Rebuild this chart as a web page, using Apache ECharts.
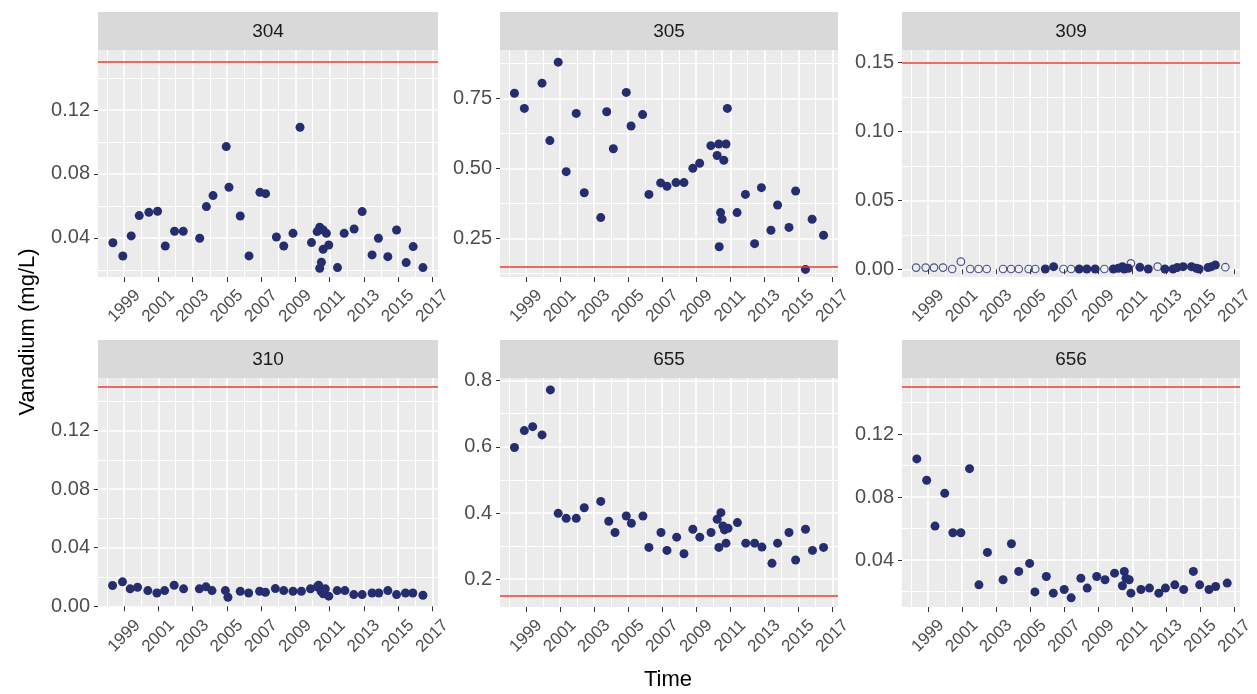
<!DOCTYPE html>
<html>
<head>
<meta charset="utf-8">
<script src="https://cdn.jsdelivr.net/npm/echarts@6/dist/echarts.min.js"></script>
<style>html,body{margin:0;background:#fff}#main{width:1257px;height:694px}</style>
</head>
<body>
<div id="main"></div>
<script>
// site names (facet strips)
var sites = ['304', '305', '309', '310', '655', '656'];
var limit = 0.15;

// x ticks (years)
var xMajor = [1999, 2001, 2003, 2005, 2007, 2009, 2011, 2013, 2015, 2017];
var xMinor = [1998, 2000, 2002, 2004, 2006, 2008, 2010, 2012, 2014, 2016];

// y ticks per site
var yMajor304 = [0.04, 0.08, 0.12], yMinor304 = [0.02, 0.06, 0.10, 0.14];
var yMajor305 = [0.25, 0.50, 0.75], yMinor305 = [0.125, 0.375, 0.625, 0.875];
var yMajor309 = [0, 0.05, 0.10, 0.15], yMinor309 = [0.025, 0.075, 0.125];
var yMajor310 = [0, 0.04, 0.08, 0.12], yMinor310 = [0.02, 0.06, 0.10, 0.14];
var yMajor655 = [0.2, 0.4, 0.6, 0.8], yMinor655 = [0.3, 0.5, 0.7];
var yMajor656 = [0.04, 0.08, 0.12], yMinor656 = [0.02, 0.06, 0.10, 0.14];

// [decimal year, mg/L]
var s304 = [[1998.34,0.037],[1998.92,0.0287],[1999.41,0.0413],[1999.88,0.054],[2000.44,0.056],[2000.95,0.0567],
  [2001.40,0.035],[2001.94,0.0442],[2002.45,0.0442],[2003.41,0.0398],[2003.80,0.0596],[2004.19,0.0665],
  [2004.96,0.0971],[2005.12,0.0717],[2005.78,0.0537],[2006.29,0.0288],[2006.93,0.0685],[2007.26,0.0677],
  [2007.89,0.0406],[2008.32,0.035],[2008.86,0.0429],[2009.27,0.1092],[2009.94,0.0371],[2010.27,0.044],
  [2010.42,0.0467],[2010.62,0.045],[2010.81,0.0429],[2010.62,0.0329],[2010.95,0.0356],[2010.42,0.021],
  [2010.52,0.0248],[2011.46,0.0215],[2011.85,0.0429],[2012.43,0.0456],[2012.90,0.0565],[2013.48,0.0294],
  [2013.85,0.0398],[2014.40,0.0283],[2014.91,0.045],[2015.47,0.0246],[2015.88,0.0346],[2016.45,0.0215]];

var s305 = [[1998.32,0.768],[1998.90,0.714],[1999.94,0.804],[2000.40,0.599],[2000.89,0.879],[2001.36,0.488],
  [2001.95,0.696],[2002.42,0.413],[2003.39,0.324],[2003.74,0.702],[2004.13,0.570],[2004.89,0.771],
  [2005.17,0.651],[2005.85,0.692],[2006.22,0.407],[2006.91,0.448],[2007.28,0.436],[2007.81,0.449],
  [2008.28,0.449],[2008.80,0.500],[2009.20,0.518],[2009.86,0.581],[2010.23,0.546],[2010.33,0.587],
  [2010.43,0.342],[2010.52,0.318],[2010.35,0.220],[2010.62,0.529],[2010.75,0.587],[2010.83,0.714],
  [2011.40,0.342],[2011.89,0.407],[2012.43,0.231],[2012.83,0.431],[2013.39,0.279],[2013.78,0.369],
  [2014.45,0.289],[2014.84,0.419],[2015.42,0.139],[2015.81,0.318],[2016.48,0.261]];

// 309: detected values and non-detects (open circles)
var s309 = [[2005.89,0.0002],[2006.38,0.0019],[2007.88,0.0002],[2008.33,0.0002],[2008.82,0.0002],[2009.89,0.0002],
  [2010.18,0.0007],[2010.42,0.0019],[2010.53,0.0002],[2010.77,0.0007],[2011.45,0.0014],[2011.94,0.0002],
  [2012.92,0.0002],[2013.40,0.0002],[2013.64,0.0012],[2013.99,0.0019],[2014.48,0.0019],[2014.77,0.0007],
  [2014.93,0.0002],[2015.45,0.0012],[2015.65,0.0019],[2015.88,0.0031]];
var nd309 = [[1998.30,0.0012],[1998.86,0.0012],[1999.35,0.0012],[1999.88,0.0012],[2000.42,0.0002],[2000.93,0.0055],
  [2001.48,0.0002],[2001.97,0.0002],[2002.45,0.0002],[2003.41,0.0002],[2003.88,0.0002],[2004.33,0.0002],
  [2004.91,0.0002],[2005.30,0.0002],[2006.96,0.0002],[2007.41,0.0002],[2009.36,0.0002],[2010.92,0.0043],
  [2012.49,0.0019],[2016.47,0.0015]];

var s310 = [[1998.32,0.0142],[1998.90,0.0167],[1999.35,0.0119],[1999.78,0.0130],[2000.38,0.0107],[2000.91,0.0091],
  [2001.36,0.0107],[2001.92,0.0144],[2002.47,0.0119],[2003.39,0.0119],[2003.78,0.0133],[2004.13,0.0107],
  [2004.91,0.0107],[2005.06,0.0062],[2005.78,0.0103],[2006.27,0.0091],[2006.91,0.0103],[2007.25,0.0096],
  [2007.83,0.0121],[2008.32,0.0107],[2008.86,0.0103],[2009.35,0.0103],[2009.88,0.0119],[2010.27,0.0133],
  [2010.36,0.0144],[2010.50,0.0103],[2010.62,0.0085],[2010.75,0.0119],[2010.95,0.0069],[2011.44,0.0107],
  [2011.89,0.0107],[2012.41,0.0080],[2012.90,0.0080],[2013.48,0.0091],[2013.87,0.0091],[2014.40,0.0107],
  [2014.91,0.0080],[2015.43,0.0091],[2015.86,0.0091],[2016.45,0.0075]];

var s655 = [[1998.32,0.598],[1998.90,0.649],[1999.39,0.661],[1999.94,0.636],[2000.43,0.772],[2000.89,0.399],
  [2001.36,0.384],[2001.95,0.384],[2002.42,0.416],[2003.39,0.435],[2003.86,0.375],[2004.23,0.341],
  [2004.89,0.391],[2005.19,0.369],[2005.87,0.391],[2006.22,0.296],[2006.93,0.341],[2007.28,0.287],
  [2007.85,0.327],[2008.28,0.277],[2008.80,0.351],[2009.21,0.327],[2009.87,0.341],[2010.23,0.381],
  [2010.45,0.401],[2010.33,0.296],[2010.57,0.361],[2010.66,0.349],[2010.75,0.309],[2010.87,0.354],
  [2011.42,0.371],[2011.91,0.309],[2012.43,0.309],[2012.86,0.297],[2013.45,0.248],[2013.78,0.309],
  [2014.45,0.341],[2014.84,0.258],[2015.42,0.351],[2015.83,0.287],[2016.48,0.296]];

var s656 = [[1998.34,0.1043],[1998.92,0.0907],[1999.41,0.0616],[1999.98,0.0824],[2000.46,0.0574],[2000.93,0.0574],
  [2001.44,0.0981],[2001.99,0.0243],[2002.49,0.0449],[2003.41,0.0275],[2003.90,0.0504],[2004.33,0.0328],
  [2004.97,0.0379],[2005.28,0.0198],[2005.95,0.0296],[2006.36,0.0190],[2007.00,0.0213],[2007.41,0.0160],
  [2007.98,0.0285],[2008.35,0.0222],[2008.91,0.0296],[2009.40,0.0275],[2009.96,0.0317],[2010.42,0.0237],
  [2010.53,0.0328],[2010.63,0.0285],[2010.82,0.0275],[2010.92,0.0190],[2011.51,0.0213],[2012.01,0.0222],
  [2012.56,0.0190],[2012.95,0.0222],[2013.50,0.0243],[2014.02,0.0213],[2014.59,0.0328],[2014.96,0.0243],
  [2015.51,0.0213],[2015.90,0.0232],[2016.58,0.0254]];

var navy = '#262D6E';
var font = 'Liberation Sans, Arial, Helvetica, sans-serif';

// layout of the facets
var panels = [
  {pts: s304, left: 98,  top: 50,  w: 340, h: 227, ymin: 0.0156, ymax: 0.1575, major: yMajor304, minor: yMinor304, dec: 2},
  {pts: s305, left: 500, top: 50,  w: 338, h: 227, ymin: 0.112,  ymax: 0.9225, major: yMajor305, minor: yMinor305, dec: 2},
  {pts: s309, nd: nd309, left: 902, top: 50, w: 338, h: 227, ymin: -0.0056, ymax: 0.1589, major: yMajor309, minor: yMinor309, dec: 2},
  {pts: s310, left: 98,  top: 378, w: 340, h: 229, ymin: -0.0005, ymax: 0.156, major: yMajor310, minor: yMinor310, dec: 2},
  {pts: s655, left: 500, top: 378, w: 338, h: 229, ymin: 0.116, ymax: 0.808, major: yMajor655, minor: yMinor655, dec: 1},
  {pts: s656, left: 902, top: 378, w: 338, h: 229, ymin: 0.0102, ymax: 0.1557, major: yMajor656, minor: yMinor656, dec: 2}
];
var xmin = 1997.47, xmax = 2017.33;

var grids = [], xAxes = [], yAxes = [], series = [], graphics = [];

panels.forEach(function(p, i) {
  grids.push({left: p.left, top: p.top, width: p.w, height: p.h, show: true,
    backgroundColor: '#EBEBEB', borderWidth: 0});

  // main x axis: ticks, labels, major grid
  xAxes.push({type: 'value', gridIndex: i, min: xmin, max: xmax,
    axisLine: {show: false},
    axisTick: {show: true, length: 5, customValues: xMajor, lineStyle: {color: '#333'}},
    axisLabel: {customValues: xMajor, rotate: 45, align: 'center', verticalAlign: 'middle', margin: 29,
      fontSize: 17, color: '#4D4D4D', fontFamily: font, formatter: function(v) { return String(Math.round(v)); }},
    splitLine: {show: true, lineStyle: {color: '#fff', width: 1.6}}
  });
  // minor x grid
  xAxes.push({type: 'value', gridIndex: i, min: xmin, max: xmax,
    axisLine: {show: false},
    axisTick: {show: false, customValues: xMinor},
    axisLabel: {show: false},
    splitLine: {show: true, lineStyle: {color: '#fff', width: 1.1}}
  });

  yAxes.push({type: 'value', gridIndex: i, min: p.ymin, max: p.ymax,
    axisLine: {show: false},
    axisTick: {show: true, length: 4, customValues: p.major, lineStyle: {color: '#333'}},
    axisLabel: {customValues: p.major, margin: 8, fontSize: 20, color: '#4D4D4D', fontFamily: font,
      formatter: (function(d) { return function(v) { return v.toFixed(d); }; })(p.dec)},
    splitLine: {show: true, lineStyle: {color: '#fff', width: 1.6}}
  });
  yAxes.push({type: 'value', gridIndex: i, min: p.ymin, max: p.ymax,
    axisLine: {show: false},
    axisTick: {show: false, customValues: p.minor},
    axisLabel: {show: false},
    splitLine: {show: true, lineStyle: {color: '#fff', width: 1.1}}
  });

  // red limit line
  series.push({type: 'scatter', xAxisIndex: 2 * i, yAxisIndex: 2 * i, data: [], z: 2,
    markLine: {silent: true, symbol: ['none', 'none'], animation: false, label: {show: false},
      lineStyle: {color: '#E8412E', width: 1.6, type: 'solid'},
      data: [{yAxis: limit}]}
  });
  series.push({type: 'scatter', xAxisIndex: 2 * i, yAxisIndex: 2 * i, data: p.pts, z: 4,
    symbolSize: 9, itemStyle: {color: navy, opacity: 1}, animation: false});
  if (p.nd) {
    series.push({type: 'scatter', xAxisIndex: 2 * i, yAxisIndex: 2 * i, data: p.nd, z: 4,
      symbol: 'circle', symbolSize: 7.5,
      itemStyle: {color: 'rgba(0,0,0,0)', borderColor: navy, borderWidth: 1.2}, animation: false});
  }

  // facet strip
  graphics.push({type: 'rect', shape: {x: p.left, y: p.top - 38, width: p.w, height: 38},
    style: {fill: '#D9D9D9'}, silent: true});
  graphics.push({type: 'text', x: p.left + p.w / 2, y: p.top - 18,
    style: {text: sites[i], fontSize: 19, fontFamily: font, fill: '#1A1A1A',
      align: 'center', verticalAlign: 'middle', textAlign: 'center', textVerticalAlign: 'middle'}});
});

// axis titles
graphics.push({type: 'text', x: 668, y: 680,
  style: {text: 'Time', fontSize: 22, fontFamily: font, fill: '#000',
    align: 'center', verticalAlign: 'middle', textAlign: 'center', textVerticalAlign: 'middle'}});
graphics.push({type: 'text', x: 28, y: 332, rotation: Math.PI / 2,
  style: {text: 'Vanadium (mg/L)', fontSize: 22, fontFamily: font, fill: '#000',
    align: 'center', verticalAlign: 'middle', textAlign: 'center', textVerticalAlign: 'middle'}});

var myChart = echarts.init(document.getElementById('main'));
myChart.setOption({
  backgroundColor: '#fff',
  animation: false,
  textStyle: {fontFamily: font},
  grid: grids,
  xAxis: xAxes,
  yAxis: yAxes,
  series: series,
  graphic: graphics
});
</script>
</body>
</html>
